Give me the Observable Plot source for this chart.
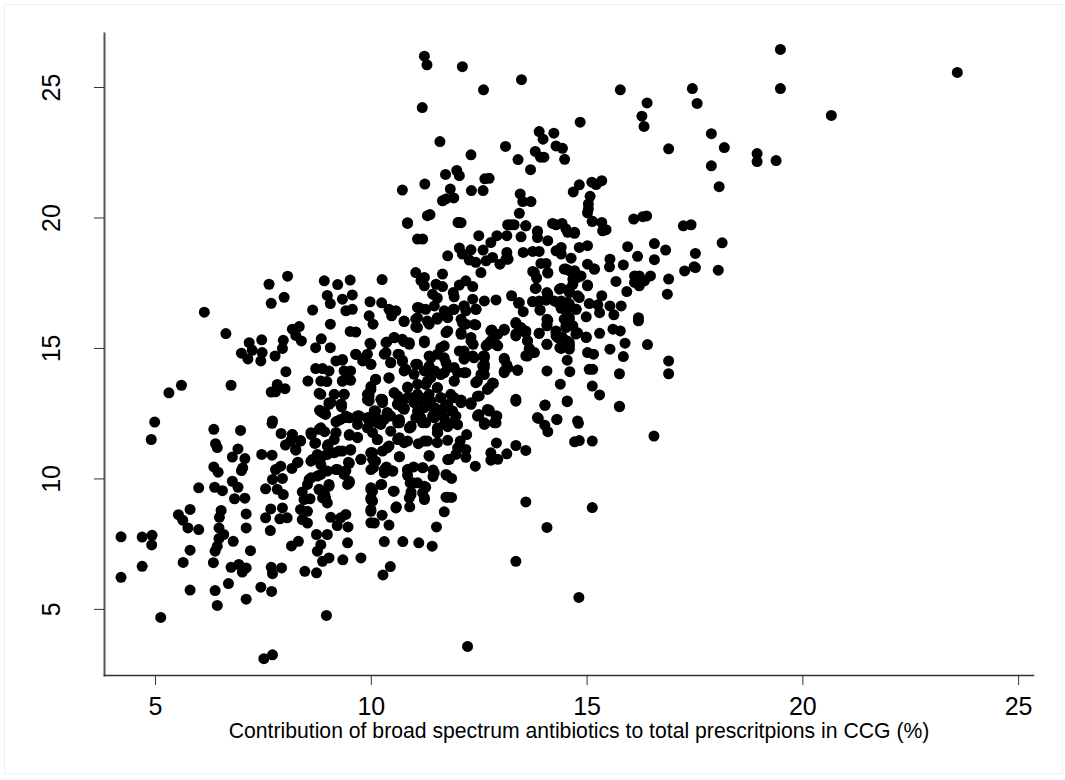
<!DOCTYPE html>
<html>
<head>
<meta charset="utf-8">
<script src="https://cdn.jsdelivr.net/npm/d3@7"></script>
<script src="https://cdn.jsdelivr.net/npm/@observablehq/plot@0.6"></script>
<style>
html,body{margin:0;padding:0;background:#fff;}
#wrap{position:relative;width:1065px;height:780px;overflow:hidden;}
#edge{position:absolute;left:4px;top:4px;width:1057px;height:768px;border:1px solid #eaf2f3;box-sizing:content-box;}
#wrap svg{position:absolute;left:0;top:0;background:transparent;}
</style>
</head>
<body>
<div id="wrap"><div id="edge"></div></div>
<script>
const xLabel = "Contribution of broad spectrum antibiotics to total prescritpions in CCG (%)";
const xTicks = [5,10,15,20,25];
const yTicks = [5,10,15,20,25];

const lowLeft = [[4.98,12.18],[4.90,11.51],[6.35,11.90],[6.97,11.86],[7.70,12.13],[6.39,11.35],[6.43,11.20],[6.91,11.15],[6.78,10.84],[7.07,10.78],[7.46,10.94],[7.70,10.91],[6.35,10.46],[6.45,10.26],[6.99,10.32],[7.02,10.42],[6.78,9.91],[6.91,9.68],[6.0,9.66],[6.37,9.68],[6.55,9.55],[6.83,9.24],[7.07,9.26],[6.52,8.79],[6.48,8.53],[7.10,8.66],[5.53,8.63],[5.80,8.83],[5.63,8.42],[5.75,8.12],[6.0,8.06],[6.47,8.12],[6.58,7.87],[6.47,7.72],[6.80,7.61],[6.43,7.42],[6.38,7.23],[7.10,8.12],[7.20,7.25],[5.80,7.27],[5.64,6.80],[6.34,6.79],[6.75,6.61],[6.93,6.72],[7.10,6.59],[7.01,6.43],[6.69,5.99],[6.38,5.72],[5.80,5.74],[6.43,5.15],[7.10,5.39],[7.44,5.85],[7.69,5.69],[7.68,6.61],[7.71,6.37],[7.92,6.59],[8.46,6.46],[8.73,6.40],[8.96,4.77],[5.12,4.69],[7.51,3.11],[7.71,3.26],[4.20,7.78],[4.69,7.77],[4.92,7.84],[4.91,7.47],[4.69,6.65],[4.20,6.23]];
const lowMiddleLeft = [[7.66,8.02],[7.55,8.51],[7.67,8.85],[7.88,8.47],[7.94,8.89],[8.05,8.51],[7.55,9.62],[7.71,9.98],[7.94,10.02],[7.82,9.60],[7.96,9.40],[7.90,10.49],[7.78,10.36],[8.16,10.40],[8.30,10.64],[8.60,10.68],[8.75,10.94],[8.01,11.30],[8.13,11.45],[8.17,11.70],[7.91,11.74],[8.25,11.10],[8.36,11.45],[8.61,11.70],[8.79,11.90],[8.92,11.81],[8.69,11.36],[8.80,12.63],[8.92,12.54],[9.02,12.86],[9.31,12.76],[9.18,12.19],[9.45,12.35],[9.68,12.41],[9.68,12.09],[9.91,11.96],[9.18,11.77],[9.49,11.67],[9.68,11.60],[9.0,11.32],[9.14,11.51],[8.98,10.94],[9.25,11.07],[9.52,11.10],[9.76,10.75],[9.47,10.64],[9.99,11.0],[9.18,10.36],[9.41,10.32],[8.83,10.55],[8.75,10.11],[8.56,9.98],[8.52,9.79],[9.49,9.91],[9.45,9.79],[9.02,9.79],[8.79,9.60],[8.92,9.40],[8.87,9.27],[8.98,9.08],[8.40,9.50],[8.44,9.21],[8.58,9.24],[8.36,8.83],[8.52,8.76],[8.40,8.44],[8.52,8.31],[9.06,8.53],[9.41,8.64],[9.29,8.51],[9.21,8.21],[9.46,8.16],[8.73,7.87],[8.98,7.87],[9.45,7.55],[8.83,7.48],[8.75,7.23],[8.87,6.84],[9.02,6.97],[9.34,6.90],[9.76,6.97],[8.31,7.61],[8.15,7.43],[9.99,8.76],[9.99,8.32],[9.99,9.27],[9.99,9.66]];
const lowMiddleRight = [[12.23,3.58],[14.81,5.46],[13.35,6.84],[15.12,8.90],[13.58,9.12],[14.07,8.14],[10.27,6.32],[10.44,6.64],[10.30,7.60],[10.73,7.60],[11.10,7.55],[11.41,7.42],[11.51,8.16],[10.41,8.23],[10.07,8.31],[10.25,8.61],[10.58,8.93],[10.89,8.93],[11.69,8.74],[10.51,9.53],[10.24,9.79],[11.77,9.30],[11.86,9.29],[11.23,9.21],[10.88,9.27],[10.92,9.50],[11.19,9.47],[11.26,9.68],[11.07,9.85],[10.90,9.85],[11.75,10.14],[11.86,10.02],[11.43,10.34],[11.43,10.09],[11.19,10.43],[10.98,10.46],[10.84,10.34],[10.84,10.14],[10.50,10.30],[10.35,10.46],[10.30,10.23],[10.05,10.43],[10.03,10.75],[10.65,10.85],[11.34,10.90],[11.81,10.75],[11.96,10.94],[12.19,10.83],[12.41,10.49],[12.77,11.0],[12.77,10.72],[12.93,10.75],[13.14,10.96],[13.35,11.28],[13.58,11.09],[12.90,11.38],[12.19,11.13],[12.0,11.19],[12.06,11.45],[12.21,11.70],[11.77,11.48],[11.53,11.77],[11.53,11.39],[11.30,11.45],[11.09,11.35],[10.76,11.39],[10.65,11.58],[10.45,11.83],[10.41,11.26],[10.26,11.07],[10.14,11.51],[10.03,11.0],[11.69,12.09],[11.88,12.15],[10.92,11.99],[11.07,12.35],[11.26,12.15],[10.65,12.15],[10.37,12.54],[10.22,12.09],[10.07,12.54],[12.49,12.43],[12.62,12.09],[12.73,12.60],[12.89,12.41],[12.85,12.15],[13.87,12.32],[14.02,12.06],[14.09,11.81],[14.30,12.28],[14.80,12.13],[14.71,11.42],[14.82,11.47],[15.12,11.45],[15.75,12.78],[14.02,12.82],[14.54,12.96],[13.35,12.98],[12.31,12.86],[10.76,12.67],[10.26,12.92],[10.61,12.86],[11.23,12.73],[11.46,12.67],[11.69,12.73],[11.88,12.60],[12.08,12.92],[11.15,12.35],[11.42,12.41],[10.99,12.92],[10.03,11.77],[10.0,12.2],[10.03,9.53],[10.03,9.15]];
const midLeft = [[10.84,19.79],[11.07,19.19],[11.03,17.91],[11.15,17.6],[8.06,17.77],[7.63,17.46],[7.98,16.96],[7.68,16.73],[6.13,16.39],[6.63,15.57],[8.91,17.59],[9.22,17.45],[9.51,17.62],[10.25,17.64],[8.98,17.03],[9.05,16.72],[9.33,16.89],[9.56,17.05],[9.41,16.44],[9.56,16.50],[9.97,16.79],[10.24,16.75],[10.41,16.50],[10.57,16.44],[10.47,16.25],[11.07,16.57],[8.64,16.47],[9.05,15.93],[9.95,16.25],[10.04,15.93],[10.76,16.03],[11.03,16.12],[11.03,15.83],[9.51,15.65],[9.64,15.63],[8.33,15.84],[8.17,15.74],[8.25,15.5],[8.38,15.29],[7.17,15.22],[7.46,15.33],[7.96,15.31],[7.94,15.0],[7.24,14.93],[7.47,14.84],[6.99,14.82],[7.14,14.6],[7.44,14.52],[7.77,14.71],[8.84,15.37],[8.71,15.03],[9.05,15.03],[9.97,15.2],[10.36,15.25],[10.53,15.42],[10.76,15.26],[10.88,15.16],[9.64,14.78],[9.91,14.78],[10.30,14.78],[10.62,14.78],[9.80,14.52],[9.99,14.39],[9.18,14.52],[9.33,14.55],[10.45,14.46],[10.72,14.55],[8.02,14.11],[8.53,13.75],[6.75,13.59],[5.60,13.59],[5.31,13.30],[7.71,12.22],[7.82,13.62],[7.68,13.33],[8.0,13.46],[7.78,13.34],[8.71,14.23],[8.87,14.23],[9.02,14.14],[8.83,13.75],[8.97,13.73],[8.79,13.28],[9.14,13.24],[9.37,13.24],[9.02,12.92],[9.31,12.86],[8.83,12.6],[8.94,12.47],[9.37,14.14],[9.52,14.14],[9.45,13.88],[9.33,13.75],[9.52,13.78],[10.1,13.82],[9.99,13.54],[9.91,13.24],[9.95,12.99],[10.24,13.05],[10.41,13.86],[10.53,13.3],[10.61,13.18],[10.61,12.86],[10.76,12.7],[10.84,13.52],[10.84,13.11],[10.76,14.14],[11.03,14.39],[10.99,14.01],[11.07,13.63],[11.07,13.24],[11.03,12.35],[10.1,12.6],[10.37,12.54],[9.68,12.41],[9.95,12.35],[9.45,12.35],[9.29,12.28],[10.65,12.22],[10.18,12.28]];
const midRight = [[12.02,19.83],[11.19,19.19],[12.49,19.32],[12.91,19.32],[13.14,19.32],[12.77,19.06],[13.47,19.28],[13.24,19.74],[13.58,19.7],[13.85,19.47],[13.85,19.25],[14.09,19.13],[14.28,19.74],[14.55,19.45],[14.71,19.41],[15.12,19.87],[15.36,19.51],[15.94,18.9],[16.56,19.02],[16.82,18.77],[17.51,18.64],[17.51,18.1],[17.26,17.97],[16.89,17.66],[16.86,17.08],[16.56,18.4],[16.17,18.53],[15.84,18.2],[15.53,18.42],[15.52,18.13],[15.67,17.57],[15.92,17.18],[16.1,17.78],[16.21,17.78],[16.1,17.53],[16.21,17.4],[16.33,17.59],[16.47,17.78],[15.01,18.94],[14.82,18.87],[14.4,18.87],[14.28,18.74],[13.89,18.72],[13.74,18.72],[13.52,18.68],[13.14,18.68],[13.12,18.42],[12.59,18.77],[12.31,18.78],[12.04,18.85],[12.11,18.62],[11.77,18.55],[12.27,18.39],[12.42,18.3],[12.54,17.91],[12.66,18.36],[12.81,18.49],[12.98,18.23],[13.17,18.42],[13.93,18.26],[14.05,18.26],[14.09,17.91],[13.74,17.95],[13.83,17.7],[14.4,18.62],[14.63,18.46],[14.51,18.04],[14.71,17.98],[15.01,18.23],[15.17,18.04],[14.86,17.78],[15.01,17.43],[14.67,17.66],[14.36,17.27],[14.59,17.27],[14.78,17.02],[13.8,17.3],[14.07,17.14],[13.74,16.79],[13.89,16.82],[14.05,16.85],[14.24,16.82],[14.4,16.82],[14.59,16.7],[14.74,16.5],[13.91,16.47],[14.4,16.54],[15.34,17.02],[15.05,16.72],[15.25,16.67],[15.29,16.37],[15.53,16.63],[15.79,16.63],[15.62,16.29],[14.98,16.21],[16.19,16.18],[16.19,16.06],[15.29,15.58],[15.6,15.74],[15.77,15.67],[15.53,14.97],[15.88,15.2],[15.84,14.69],[16.4,15.15],[16.89,14.52],[16.89,14.03],[15.75,14.03],[15.01,14.84],[15.15,14.78],[15.05,14.2],[15.13,14.2],[15.12,13.56],[15.29,13.22],[15.75,12.77],[14.54,12.99],[14.38,13.63],[14.07,14.14],[14.6,14.11],[14.54,14.55],[14.37,15.03],[14.59,15.22],[14.59,14.97],[14.07,15.16],[13.89,15.58],[14.07,16.12],[14.07,15.87],[14.28,15.67],[14.28,15.48],[14.47,16.12],[14.59,16.18],[14.51,15.8],[14.67,15.87],[14.43,15.42],[14.74,15.55],[14.98,15.42]];
const midCentre = [[13.35,15.99],[13.47,15.8],[13.58,15.67],[13.35,15.55],[13.62,15.29],[13.66,14.97],[13.62,14.71],[13.78,14.84],[13.08,15.74],[12.79,15.71],[12.93,15.1],[12.77,15.29],[12.66,15.1],[13.25,17.02],[13.41,16.73],[13.52,16.41],[12.89,16.86],[12.62,16.82],[12.35,16.89],[12.42,16.5],[12.15,16.63],[12.19,16.44],[12.19,17.59],[12.35,17.37],[12.04,17.43],[11.9,17.14],[11.92,16.98],[11.9,16.5],[11.65,17.85],[11.5,17.46],[11.65,17.37],[11.23,17.72],[11.23,17.4],[11.42,17.08],[11.53,16.93],[11.26,16.5],[11.53,16.12],[11.34,15.93],[11.73,15.61],[12.08,16.12],[12.19,15.93],[12.42,15.9],[12.08,15.61],[12.31,15.42],[12.36,15.16],[12.04,14.9],[11.69,15.1],[11.53,14.78],[11.34,14.71],[11.23,15.29],[12.15,14.59],[12.35,14.71],[12.6,14.71],[12.58,14.33],[12.54,14.01],[12.42,13.69],[12.83,13.66],[12.73,13.5],[12.5,13.18],[12.31,12.88],[12.08,13.02],[12.15,14.07],[11.92,14.27],[11.73,14.46],[11.69,14.07],[11.92,13.75],[13.08,14.62],[13.08,14.07],[13.14,14.37],[13.39,14.17],[13.35,13.05],[14.03,12.83],[13.85,12.35],[14.3,12.28],[14.78,12.22],[12.73,12.64],[12.91,12.41],[12.49,12.47],[11.53,13.5],[11.3,13.75],[11.34,13.24],[11.61,13.11],[11.84,13.24],[11.23,14.14],[11.47,14.14],[11.47,12.73],[11.88,12.6],[11.19,12.98],[11.69,12.35]];
const denseCore = [[10.34,15.22],[10.53,15.41],[10.88,15.22],[10.72,15.35],[10.34,14.84],[10.65,14.77],[10.45,14.45],[10.8,14.2],[11.07,14.39],[10.72,14.5],[11.23,15.22],[11.38,14.64],[11.34,14.32],[11.61,15.03],[11.69,14.64],[11.77,14.26],[12.0,14.07],[12.19,14.07],[11.92,13.75],[11.61,14.0],[11.38,13.88],[11.26,13.62],[11.53,13.49],[11.61,13.11],[11.38,12.98],[11.15,13.11],[10.84,13.49],[10.53,13.3],[10.68,12.98],[10.92,13.11],[10.72,12.73],[11.07,12.6],[11.77,12.85],[11.92,13.11],[12.08,12.98],[12.31,12.92],[12.46,13.17],[12.69,13.43],[12.81,13.68],[12.46,13.75],[12.62,14.0],[12.62,14.39],[12.62,14.71],[12.38,14.64],[12.15,14.9],[12.31,15.28],[12.08,15.54],[12.11,15.99],[12.39,15.92],[11.77,15.67],[11.77,16.18],[11.53,16.18],[11.3,16.05],[11.07,16.18],[10.76,16.05],[11.07,15.8],[11.69,16.44],[11.92,16.5],[11.11,16.56],[11.46,16.63],[12.15,16.63],[12.43,16.5],[12.77,15.67],[12.93,15.54],[12.69,15.15],[10.1,13.81],[9.99,13.43],[9.91,13.04],[10.41,13.88],[10.26,13.04],[9.37,13.24],[9.99,14.39],[9.83,14.64],[9.64,14.77],[9.99,15.16],[9.45,14.07],[9.33,14.58],[9.33,13.75],[10.07,12.6],[10.37,12.53],[9.72,12.41],[9.41,12.41],[9.91,12.34],[10.3,12.28],[10.65,12.28],[11.07,12.34],[11.61,12.47],[11.96,12.41],[12.46,12.41],[12.69,12.66],[12.62,12.15],[12.89,12.15],[12.0,12.08],[10.88,11.95],[11.53,11.95],[11.77,12.0]];
const lowerCore = [[9.22,12.22],[9.49,12.34],[9.72,12.41],[9.95,12.22],[10.14,12.15],[10.45,12.41],[10.61,12.15],[10.92,12.03],[11.19,12.15],[11.46,12.34],[11.54,11.77],[11.23,11.45],[10.84,11.45],[10.61,11.51],[10.37,11.19],[10.14,11.51],[9.99,11.0],[10.1,10.68],[9.99,10.36],[10.3,10.36],[10.49,10.3],[9.49,10.6],[9.76,10.75],[9.22,10.36],[9.52,11.13],[9.33,11.07],[9.49,11.7],[9.68,11.58],[9.18,11.77],[8.83,11.96],[8.6,11.77],[8.71,11.38],[8.98,11.26],[9.14,11.0],[8.87,10.87],[8.63,10.74],[8.29,10.62],[8.25,11.13],[8.36,11.47],[8.17,11.7],[8.6,10.04],[8.83,10.17],[8.98,10.3],[9.37,10.17],[9.49,9.85],[9.02,9.72],[8.79,9.59],[8.94,9.27],[9.99,9.59],[10.22,9.78],[9.99,9.21],[10.53,9.53],[10.65,10.85],[11.34,10.87],[10.84,10.36],[11.19,10.43],[11.46,10.23],[10.96,9.85],[11.23,9.72],[10.92,9.4],[11.23,9.27],[11.77,10.74],[11.73,10.17],[11.73,9.3],[10.57,8.89],[9.99,8.83],[8.87,12.54],[8.83,13.24],[9.29,12.86],[9.06,12.92],[9.95,13.18],[10.22,13.05],[10.61,12.86],[10.76,12.73],[11.23,12.86],[11.69,12.73],[10.37,12.47],[10.07,12.6]];
const upperCore = [[13.43,16.76],[13.78,17.91],[14.09,17.89],[13.82,17.31],[14.4,17.31],[13.74,16.8],[14.09,17.08],[13.91,16.47],[14.32,16.76],[14.59,17.14],[14.82,16.95],[14.55,16.76],[14.75,16.5],[14.51,16.44],[14.59,16.06],[14.51,15.86],[14.78,15.6],[14.98,15.44],[14.28,15.6],[14.32,15.42],[14.54,15.29],[14.4,15.0],[14.59,15.1],[14.09,16.08],[14.07,15.93],[13.89,15.58],[14.07,15.16],[14.59,17.98],[14.78,17.72],[15.01,17.4],[14.67,17.46],[14.47,18.04],[15.17,18.04],[13.35,15.95],[13.47,15.74],[13.58,15.6],[13.62,15.29],[13.66,15.0],[13.74,14.84],[13.58,14.72],[12.79,15.7],[13.08,15.7],[13.35,15.48],[12.89,15.16],[12.7,15.16],[12.62,14.65],[13.08,14.58],[13.08,14.13],[13.39,14.16],[13.16,14.26],[12.62,14.27]];
const upper = [[11.23,26.2],[11.29,25.87],[12.11,25.8],[11.18,24.23],[12.6,24.91],[13.48,25.3],[15.77,24.91],[16.39,24.41],[16.27,23.9],[16.32,23.51],[14.84,23.67],[13.89,23.31],[14.23,23.25],[13.98,23.02],[14.28,22.76],[14.43,22.67],[13.8,22.55],[14.0,22.33],[13.92,22.33],[14.48,22.25],[13.11,22.74],[13.4,22.24],[13.69,21.85],[16.89,22.65],[11.59,22.93],[12.31,22.42],[11.72,21.67],[11.98,21.82],[12.04,21.62],[11.24,21.30],[10.72,21.07],[11.83,21.11],[12.32,21.05],[12.59,21.05],[12.63,21.5],[12.73,21.52],[11.91,20.77],[11.65,20.66],[11.73,20.73],[13.45,20.92],[13.51,20.63],[13.7,20.63],[13.43,20.18],[14.82,21.27],[14.68,21.0],[15.11,21.37],[15.21,21.28],[15.34,21.43],[15.07,20.83],[15.03,20.54],[15.03,20.35],[15.01,20.2],[15.12,19.87],[15.34,19.83],[15.44,19.55],[16.08,19.96],[16.29,20.05],[16.38,20.08],[10.84,19.82],[11.3,20.09],[11.36,20.13],[12.01,19.83],[12.08,19.82],[13.16,19.74],[13.31,19.74],[13.58,19.7],[13.85,19.5],[14.2,19.79],[14.42,19.79],[14.51,19.58],[14.71,19.45]];
const farRight = [[23.58,25.58],[19.48,26.46],[19.48,24.96],[20.66,23.93],[17.44,24.96],[17.55,24.39],[17.88,23.23],[17.88,22.0],[18.18,22.7],[18.06,21.2],[18.94,22.47],[18.94,22.16],[19.38,22.2],[18.13,19.05],[18.04,18.0],[17.48,18.13],[17.23,19.7],[17.41,19.74],[16.55,11.64]];

const points = [...lowLeft, ...lowMiddleLeft, ...lowMiddleRight, ...midLeft, ...midRight, ...midCentre, ...denseCore, ...lowerCore, ...upperCore, ...upper, ...farRight]
  .map(([x, y]) => ({x, y}));

const chart = Plot.plot({
  width: 1065,
  height: 780,
  marginTop: 33,
  marginRight: 32,
  marginBottom: 105,
  marginLeft: 104,
  style: {background: "transparent", fontFamily: "'Liberation Sans', Arial, sans-serif", color: "#000"},
  x: {domain: [3.817, 25.345]},
  y: {domain: [2.466, 27.07]},
  marks: [
    Plot.dot(points, {x: "x", y: "y", r: 5.5, fill: "#000", stroke: "none"}),
    Plot.frame({anchor: "left", stroke: "#555", strokeWidth: 2, strokeOpacity: 1}),
    Plot.frame({anchor: "bottom", stroke: "#333", strokeWidth: 1.5, strokeOpacity: 1}),
    Plot.axisX({ticks: xTicks, tickSize: 10, tickPadding: 12, fontSize: 25, label: null, stroke: "#333", strokeOpacity: 1, tickFormat: d => String(d)}),
    Plot.axisY({ticks: yTicks, tickSize: 10, tickPadding: 35, tickRotate: -90, fontSize: 25, label: null, stroke: "#333", strokeOpacity: 1, tickFormat: d => String(d)}),
    Plot.text([xLabel], {frameAnchor: "bottom", lineAnchor: "middle", dx: 10, dy: 56, fontSize: 21.2, fill: "#000"})
  ]
});
document.getElementById("wrap").appendChild(chart);
</script>
</body>
</html>
